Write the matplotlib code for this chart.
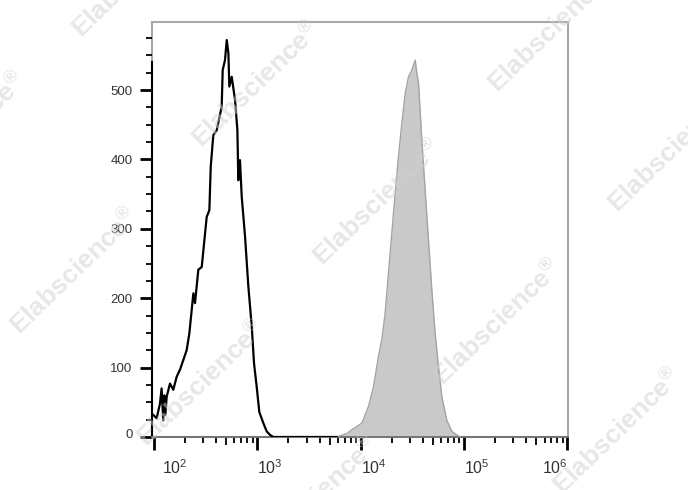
import numpy as np
import matplotlib
matplotlib.use('Agg')
import matplotlib.pyplot as plt
import matplotlib.transforms as mtransforms
from matplotlib.ticker import FixedLocator, NullFormatter

plt.rcParams['font.family'] = ['Liberation Sans', 'DejaVu Sans']
plt.rcParams['mathtext.default'] = 'regular'

# Data (log10 of fluorescence intensity, event count)
# unstained control (black outline)
neg_log10 = [1.978, 2.026, 2.058, 2.074, 2.090, 2.100, 2.110, 2.123, 2.155, 2.187,
             2.220, 2.252, 2.284, 2.316, 2.342, 2.365, 2.381, 2.397, 2.429, 2.462,
             2.494, 2.510, 2.536, 2.549, 2.574, 2.607, 2.655, 2.665, 2.687, 2.704,
             2.720, 2.729, 2.752, 2.784, 2.807, 2.816, 2.832, 2.849, 2.881, 2.913,
             2.946, 2.968, 2.994, 3.019, 3.058, 3.091, 3.123, 3.155, 3.770]
neg_count = [34, 27, 48, 70, 24, 60, 32, 58, 77, 68,
             87, 97, 111, 125, 149, 183, 207, 193, 241, 245,
             293, 317, 327, 389, 435, 442, 476, 529, 543, 572,
             553, 505, 519, 486, 442, 370, 399, 346, 289, 217,
             159, 106, 72, 36, 20, 8, 3, 0, 0]

# stained sample (grey filled)
pos_log10 = [3.769, 3.865, 3.929, 4.011, 4.075, 4.123, 4.171, 4.204, 4.236, 4.268,
             4.301, 4.333, 4.365, 4.398, 4.430, 4.462, 4.495, 4.527, 4.543, 4.559,
             4.591, 4.623, 4.655, 4.688, 4.720, 4.752, 4.785, 4.833, 4.882, 4.930,
             4.962]
pos_count = [0, 5, 12, 20, 44, 72, 116, 140, 178, 236,
             294, 351, 404, 452, 495, 519, 529, 543, 524, 510,
             428, 356, 284, 212, 149, 101, 58, 24, 8, 3,
             0]

decades = [2, 3, 4, 5, 6]
y_major = [0, 100, 200, 300, 400, 500]

# watermark centres in pixels (x, y from top)
wm_pos = [(137, -25), (257, 85), (378, 203), (498, 323), (618, 432),
          (-37, 136), (75, 272), (202, 384), (315, 500),
          (553, 30), (673, 150)]

W, H = 688, 490
fig = plt.figure(figsize=(W / 100, H / 100), dpi=100)
ax = fig.add_axes([152 / W, 1 - 437 / H, 416 / W, 415 / H])

neg_x = 10 ** np.array(neg_log10)
pos_x = 10 ** np.array(pos_log10)

ax.fill_between(pos_x, pos_count, 0, color='#c9c9c9', lw=0, zorder=2)
ax.plot(pos_x, pos_count, color='#a3a3a3', lw=1.0, zorder=3)
ax.plot(neg_x, neg_count, color='black', lw=1.6, zorder=4)

ax.set_xscale('log')
ax.set_xlim(10 ** 1.981, 10 ** 6.005)
ax.set_ylim(0, 598)

# frame
ax.patch.set_edgecolor('#a8a8a8')
ax.patch.set_linewidth(1.5)
for s in ['top', 'right']:
    ax.spines[s].set_visible(False)
ax.spines['bottom'].set_color('#707070')
ax.spines['bottom'].set_linewidth(1.3)
ax.spines['left'].set_color('black')
ax.spines['left'].set_linewidth(1.5)
ax.spines['left'].set_bounds(0, 540)

# x ticks
ax.xaxis.set_major_locator(FixedLocator([10 ** d for d in decades]))
ax.set_xticklabels(['$10^{%d}$' % d for d in decades])
minor = [m * 10 ** d for d in decades[:-1] for m in range(2, 10)]
ax.xaxis.set_minor_locator(FixedLocator(minor))
ax.xaxis.set_minor_formatter(NullFormatter())
ax.tick_params(axis='x', which='major', length=9, width=2, pad=6,
               labelsize=11.5, labelcolor='#333333')
ax.tick_params(axis='x', which='minor', length=4, width=1.3)
for t, loc in zip(ax.xaxis.get_minor_ticks(), minor):
    if abs(loc / 10 ** np.floor(np.log10(loc)) - 5) < 0.01:
        t.tick1line.set_markersize(6)

# y ticks
ax.set_yticks(y_major)
ax.set_yticks(np.arange(25, 580, 25), minor=True)
ax.tick_params(axis='y', which='major', length=9, width=2, pad=5,
               labelsize=9.5, labelcolor='#333333')
ax.tick_params(axis='y', which='minor', length=4, width=1.3)

# FlowJo style label placement
labels = ax.get_xticklabels()
for i, t in enumerate(labels):
    t.set_ha('left')
labels[0].set_transform(labels[0].get_transform() +
                        mtransforms.ScaledTranslation(8 / 100, 0, fig.dpi_scale_trans))
labels[-1].set_ha('right')
ylab = ax.get_yticklabels()
ylab[0].set_transform(ylab[0].get_transform() +
                      mtransforms.ScaledTranslation(0, 4 / 100, fig.dpi_scale_trans))

# watermarks
for px, py in wm_pos:
    fig.text(px / W, 1 - py / H, r'Elabscience$^{\circledR}$', rotation=44,
             ha='center', va='center', rotation_mode='anchor',
             fontsize=19, fontweight='bold', color='#d0d0d0', alpha=0.5,
             zorder=10)

plt.savefig('out.png', dpi=100)
